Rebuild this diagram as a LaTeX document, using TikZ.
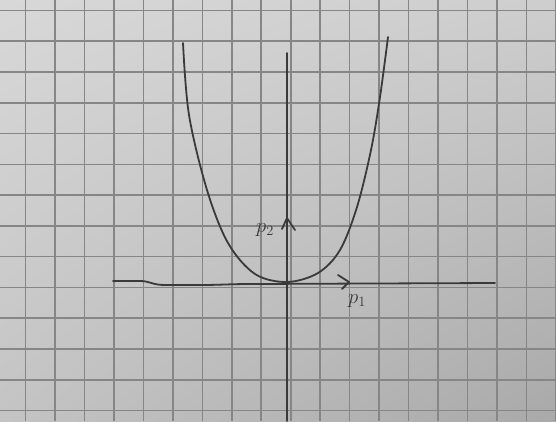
\documentclass[tikz,border=0pt]{standalone}
\usetikzlibrary{calc,shadings}
\definecolor{paperUL}{HTML}{D8D8D8}
\definecolor{paperUR}{HTML}{CECECE}
\definecolor{paperLL}{HTML}{C4C4C4}
\definecolor{paperLR}{HTML}{A9A9A9}
\definecolor{gridc}{HTML}{868686}
\definecolor{pen}{HTML}{3A3A3A}
\tikzset{
  gridline/.style={draw=gridc, line width=1.6pt},
  penline/.style={draw=pen, line width=1.8pt, line cap=round, line join=round},
  lbl/.style={text=pen, inner sep=0pt, font=\huge}
}
\begin{document}
\begin{tikzpicture}[x=1pt,y=-1pt]
\useasboundingbox (0,0) rectangle (556,421);
\shade[upper left=paperUL, upper right=paperUR, lower left=paperLL, lower right=paperLR] (0,0) rectangle (556,421);
% grid
\foreach \k in {0,...,18} {
  \draw[gridline] ({25.5+29.47*\k},0) -- ({25.5+29.47*\k},421);
}
\foreach \j in {0,...,13} {
  \draw[gridline] (0,{10.5+30.77*\j}) -- (556,{10.5+30.77*\j});
}
% axes
\coordinate (ytop) at (287,53);
\coordinate (ybot) at (287,421);
\coordinate (xl) at (113,281);
\coordinate (xr) at (495,283);
\draw[penline] (ytop) -- (ybot);
\draw[penline] (xl) -- (140,281) .. controls (150,281) and (152,285) .. (165,285) -- (200,285) .. controls (220,285) and (230,284) .. (250,284) -- (xr);
% arrowheads
\coordinate (p2tip) at (287,218);
\coordinate (p2a) at (282,229);
\coordinate (p2b) at (295,230);
\draw[penline] (p2a) -- (p2tip) -- (p2b);
\coordinate (p1tip) at (349,282);
\coordinate (p1a) at (338,275);
\coordinate (p1b) at (342,289);
\draw[penline] (p1a) -- (p1tip) -- (p1b);
% curve
\draw[penline] plot[smooth, tension=0.55] coordinates {(183,43) (189,115) (207,190) (228,243) (255,274) (287,282) (318,273) (340,250) (357,207) (371,150) (380,97) (388,37)};
% labels
\node[lbl] (lp2) at (265,230) {$p_2$};
\node[lbl] (lp1) at (357,301) {$p_1$};
\end{tikzpicture}
\end{document}
